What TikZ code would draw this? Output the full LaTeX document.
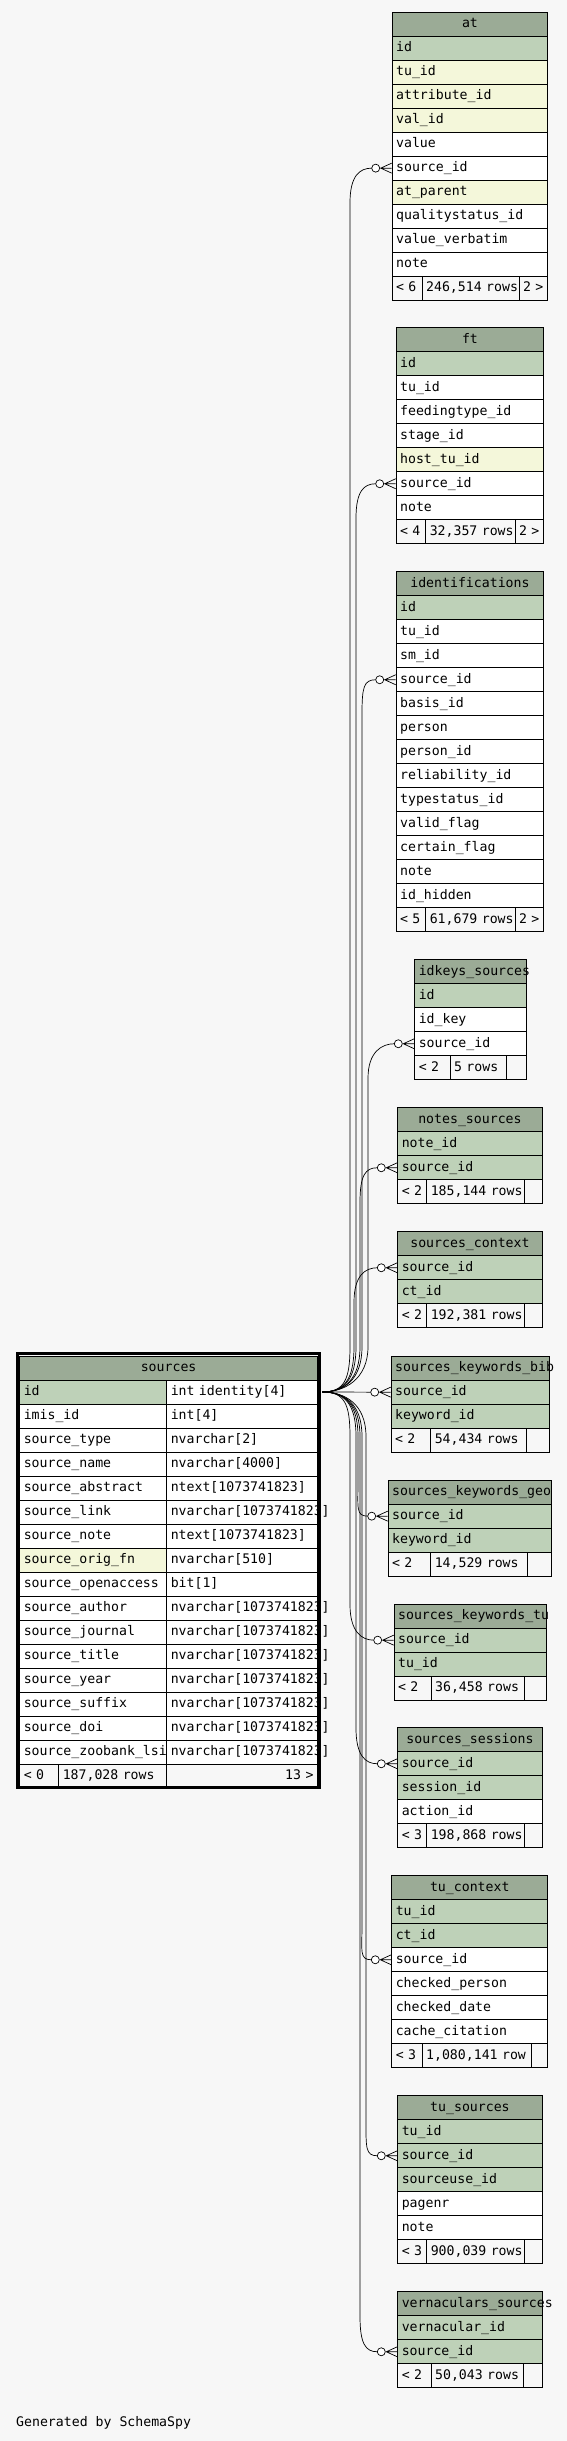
\documentclass[tikz,border=0pt]{standalone}
\usepackage{fontspec}
\newfontfamily\tabfont[HyphenChar=None]{DejaVu Sans Mono}
\usetikzlibrary{calc}
\definecolor{bggray}{HTML}{F7F7F7}
\definecolor{headgreen}{HTML}{9BAB96}
\definecolor{pk}{HTML}{BED1B8}
\definecolor{ix}{HTML}{F4F7DA}

% one table: name, x, header top, width, title, rows (text/fill)
\newcommand{\dbtable}[6]{%
  \pgfmathsetmacro\tw{#4-8}%
  \node[tblhead, minimum width=#4, text width=\tw pt] (#1) at (#2,#3) {#5};
  \foreach \txt/\clr [count=\i] in {#6}
    \node[tblcell, fill=\clr, minimum width=#4, text width=\tw pt] (#1\i) at (#2,{#3+24*\i}) {\txt};
}
% footer row: name, y, x0, x1, x2, x3, left, middle, right
\newcommand{\dbfoot}[9]{%
  \pgfmathsetmacro\wa{#4-#3}\pgfmathsetmacro\wb{#5-#4}\pgfmathsetmacro\wc{#6-#5}%
  \pgfmathsetmacro\ta{\wa-8}\pgfmathsetmacro\tb{\wb-8}\pgfmathsetmacro\tc{\wc-8}%
  \node[tblfoot, minimum width=\wa, text width=\ta pt] (#1f1) at (#3,#2) {\mbox{#7}};
  \node[tblfoot, minimum width=\wb, text width=\tb pt] (#1f2) at (#4,#2) {\mbox{#8}};
  \node[tblfoot, minimum width=\wc, text width=\tc pt] (#1f3) at (#5,#2) {\mbox{#9}};
}
% zero-or-many end at a row, plus the coordinate where the line stops
\newcommand{\crowodot}[2]{%
  \draw[fkline] ($(#1.west)+(0,-5)$) -- ($(#1.west)+(-11,0)$) -- ($(#1.west)+(0,5)$)
    ($(#1.west)+(-11,0)$) -- (#1.west);
  \draw[fkline, fill=white] ($(#1.west)+(-16,0)$) circle[radius=4pt];
  \coordinate (#2) at ($(#1.west)+(-20,0)$);
}
% line from sources.id: end, lane x, end y, direction
\newcommand{\fkedge}[4]{%
  \draw[fkline] (srcport) .. controls +(22,0) and (#2,{1391.5+(#4)*12}) .. (#2,{1391.5+(#4)*45})
    -- (#2,{#3-(#4)*35}) .. controls (#2,{#3-(#4)*8}) and ($(#1)+(-12,0)$) .. (#1);
}

\begin{document}
\begin{tikzpicture}[x=1pt, y=-1pt,
    tblcell/.style={draw, anchor=north west, minimum height=24, inner xsep=4, inner ysep=0,
      align=left, text height=9.5pt, text depth=2.5pt, line width=0.9,
      font={\tabfont\fontsize{13.2pt}{15pt}\selectfont}, fill=white},
    tblhead/.style={tblcell, fill=headgreen, align=center},
    tblfoot/.style={tblcell, fill=bggray},
    fkline/.style={line width=0.7},
    focusframe/.style={line width=3}]

  \fill[bggray] (0,0) rectangle (567,2441);
  \useasboundingbox (0,0) rectangle (567,2441);

  % Tables on the right
  \dbtable{at}{391.7}{11.7}{155.6}{at}{id/pk, tu\_id/ix, attribute\_id/ix, val\_id/ix, value/white, source\_id/white, at\_parent/ix, qualitystatus\_id/white, value\_verbatim/white, note/white}
  \dbfoot{at}{275.7}{391.7}{421.7}{518.7}{547.3}{< 6}{246,514 rows}{2 >}

  \dbtable{ft}{395.7}{327.3}{147.6}{ft}{id/pk, tu\_id/white, feedingtype\_id/white, stage\_id/white, host\_tu\_id/ix, source\_id/white, note/white}
  \dbfoot{ft}{519.3}{395.7}{425.3}{514.7}{543.3}{< 4}{32,357 rows}{2 >}

  \dbtable{idf}{395.7}{571.3}{147.6}{identifications}{id/pk, tu\_id/white, sm\_id/white, source\_id/white, basis\_id/white, person/white, person\_id/white, reliability\_id/white, typestatus\_id/white, valid\_flag/white, certain\_flag/white, note/white, id\_hidden/white}
  \dbfoot{idf}{907.3}{395.7}{425.3}{514.7}{543.3}{< 5}{61,679 rows}{2 >}

  \dbtable{idk}{414.3}{959.3}{111.4}{idkeys\_sources}{id/pk, id\_key/white, source\_id/white}
  \dbfoot{idk}{1055.3}{414.3}{449.7}{505.7}{525.7}{< 2}{5 rows}{}

  \dbtable{nts}{397.3}{1107.3}{144.4}{notes\_sources}{note\_id/pk, source\_id/pk}
  \dbfoot{nts}{1179.3}{397.3}{426.3}{523.7}{541.7}{< 2}{185,144 rows}{}

  \dbtable{sctx}{397.3}{1231.3}{144.4}{sources\_context}{source\_id/pk, ct\_id/pk}
  \dbfoot{sctx}{1303.3}{397.3}{426.3}{523.7}{541.7}{< 2}{192,381 rows}{}

  \dbtable{skb}{390.7}{1355.7}{158.6}{sources\_keywords\_bib}{source\_id/pk, keyword\_id/pk}
  \dbfoot{skb}{1427.7}{390.7}{430.3}{525.7}{549.3}{< 2}{54,434 rows}{}

  \dbtable{skg}{387.7}{1479.7}{163.6}{sources\_keywords\_geo}{source\_id/pk, keyword\_id/pk}
  \dbfoot{skg}{1551.7}{387.7}{430.3}{526.7}{551.3}{< 2}{14,529 rows}{}

  \dbtable{skt}{393.7}{1603.7}{151.8}{sources\_keywords\_tu}{source\_id/pk, tu\_id/pk}
  \dbfoot{skt}{1675.7}{393.7}{430.7}{523.7}{545.5}{< 2}{36,458 rows}{}

  \dbtable{sss}{397.3}{1727.3}{144.4}{sources\_sessions}{source\_id/pk, session\_id/pk, action\_id/white}
  \dbfoot{sss}{1823.3}{397.3}{426.3}{523.7}{541.7}{< 3}{198,868 rows}{}

  \dbtable{tuc}{391.3}{1875.3}{156}{tu\_context}{tu\_id/pk, ct\_id/pk, source\_id/white, checked\_person/white, checked\_date/white, cache\_citation/white}
  \dbfoot{tuc}{2043.3}{391.3}{421.7}{530.7}{547.3}{< 3}{1,080,141 row}{}

  \dbtable{tus}{397.3}{2095.3}{144.4}{tu\_sources}{tu\_id/pk, source\_id/pk, sourceuse\_id/pk, pagenr/white, note/white}
  \dbfoot{tus}{2239.3}{397.3}{426.3}{523.7}{541.7}{< 3}{900,039 rows}{}

  \dbtable{vns}{397.3}{2291.3}{145}{vernaculars\_sources}{vernacular\_id/pk, source\_id/pk}
  \dbfoot{vns}{2363.3}{397.3}{430.7}{522.7}{542.3}{< 2}{50,043 rows}{}

  % The sources table
  \node[tblhead, minimum width=297.7, text width=289.7pt] (src) at (19.3,1355.5) {sources};
  \foreach \a/\b/\clr [count=\i] in {id/int identity[4]/pk, imis\_id/int[4]/white, source\_type/nvarchar[2]/white, source\_name/nvarchar[4000]/white, source\_abstract/ntext[1073741823]/white, source\_link/nvarchar[1073741823]/white, source\_note/ntext[1073741823]/white, source\_orig\_fn/nvarchar[510]/ix, source\_openaccess/bit[1]/white, source\_author/nvarchar[1073741823]/white, source\_journal/nvarchar[1073741823]/white, source\_title/nvarchar[1073741823]/white, source\_year/nvarchar[1073741823]/white, source\_suffix/nvarchar[1073741823]/white, source\_doi/nvarchar[1073741823]/white, source\_zoobank\_lsid/nvarchar[1073741823]/white} {
    \node[tblcell, fill=\clr, minimum width=147, text width=139pt] (src\i) at (19.3,{1355.5+24*\i}) {\a};
    \node[tblcell, minimum width=150.7, text width=142.7pt] (srct\i) at (166.3,{1355.5+24*\i}) {\b};
  }
  \node[tblfoot, minimum width=39, text width=31pt] (srcf1) at (19.3,1763.5) {< 0};
  \node[tblfoot, minimum width=108, text width=100pt] (srcf2) at (58.3,1763.5) {\mbox{187,028 rows}};
  \node[tblfoot, minimum width=150.7, text width=142.7pt, align=right] (srcf3) at (166.3,1763.5) {13 >};
  \draw[focusframe] ($(src.north west)+(-2.3,-2)$) rectangle ($(srcf3.south east)+(2,-1)$);
  \coordinate (srcport) at ($(srct1.east)+(4.5,0)$);

  % Draw the foreign key ends
  \crowodot{at6}{atE}
  \crowodot{ft6}{ftE}
  \crowodot{idf4}{idfE}
  \crowodot{idk3}{idkE}
  \crowodot{nts2}{ntsE}
  \crowodot{sctx1}{sctxE}
  \crowodot{skb1}{skbE}
  \crowodot{skg1}{skgE}
  \crowodot{skt1}{sktE}
  \crowodot{sss1}{sssE}
  \crowodot{tuc3}{tucE}
  \crowodot{tus2}{tusE}
  \crowodot{vns2}{vnsE}

  % Draw lines from sources.id
  \fkedge{atE}{350}{167.7}{-1}
  \fkedge{ftE}{356}{483.3}{-1}
  \fkedge{idfE}{362}{679.3}{-1}
  \fkedge{idkE}{368}{1043.3}{-1}
  \fkedge{ntsE}{360}{1167.3}{-1}
  \fkedge{sctxE}{354}{1267.3}{-1}
  \draw[fkline] (srcport) -- (skbE);
  \fkedge{skgE}{358}{1515.7}{1}
  \fkedge{sktE}{350}{1639.7}{1}
  \fkedge{sssE}{356}{1763.3}{1}
  \fkedge{tucE}{362}{1959.3}{1}
  \fkedge{tusE}{366}{2155.3}{1}
  \fkedge{vnsE}{360}{2351.3}{1}

  \node[font={\tabfont\fontsize{13.2pt}{15pt}\selectfont}, anchor=base west, inner sep=0] (gen) at (16,2426) {Generated by SchemaSpy};
\end{tikzpicture}
\end{document}
